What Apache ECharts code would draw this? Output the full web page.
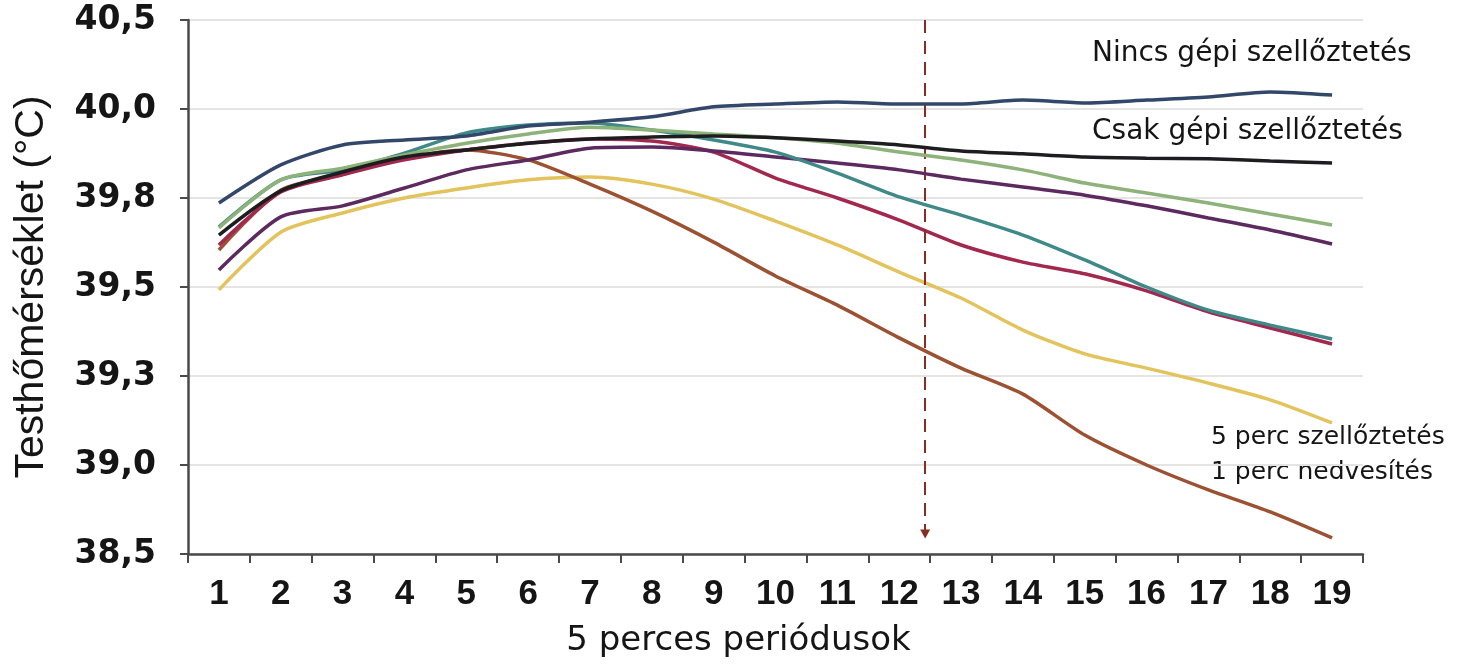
<!DOCTYPE html>
<html>
<head>
<meta charset="utf-8">
<script src="https://cdn.jsdelivr.net/npm/echarts@6/dist/echarts.min.js"></script>
<style>
html,body{margin:0;padding:0;background:#fff;}
#chart{width:1460px;height:669px;}
</style>
</head>
<body>
<div id="chart"></div>
<script>
// ---- data ----
const categories = ['1','2','3','4','5','6','7','8','9','10','11','12','13','14','15','16','17','18','19'];
const yTickLabels = ['38,5','39,0','39,3','39,5','39,8','40,0','40,5'];

const nincsGepi   = [39.736,39.843,39.899,39.913,39.924,39.952,39.963,39.978,40.006,40.014,40.020,40.014,40.014,40.025,40.017,40.025,40.034,40.048,40.039];
const csakGepi    = [39.646,39.770,39.823,39.865,39.885,39.904,39.916,39.921,39.924,39.919,39.910,39.899,39.882,39.874,39.865,39.862,39.860,39.854,39.848];
const zoldVonal   = [39.666,39.801,39.834,39.871,39.904,39.930,39.949,39.941,39.930,39.919,39.904,39.879,39.857,39.829,39.792,39.764,39.736,39.705,39.674];
const kekeszold   = [39.669,39.801,39.829,39.876,39.933,39.955,39.961,39.941,39.913,39.879,39.820,39.753,39.702,39.646,39.576,39.500,39.435,39.393,39.354];
const lilaVonal   = [39.548,39.697,39.728,39.778,39.829,39.857,39.890,39.893,39.882,39.865,39.848,39.829,39.803,39.781,39.758,39.728,39.694,39.660,39.621];
const bordoVonal  = [39.618,39.767,39.815,39.857,39.885,39.904,39.916,39.910,39.879,39.806,39.750,39.688,39.618,39.570,39.537,39.489,39.430,39.385,39.340];
const sargaVonal  = [39.492,39.654,39.708,39.750,39.778,39.801,39.809,39.789,39.747,39.685,39.618,39.542,39.469,39.379,39.312,39.272,39.230,39.183,39.118];
const barnaVonal  = [39.604,39.772,39.817,39.862,39.885,39.857,39.789,39.713,39.626,39.531,39.449,39.357,39.272,39.199,39.084,39.000,38.930,38.868,38.795];

const markerPeriod = 12.42;          // position of the dashed arrow on the period scale
const markerTop = 40.25, markerBottom = 38.806;

const yMin = 38.75, yMax = 40.25, yStep = 0.25;

// ---- chart ----
const chart = echarts.init(document.getElementById('chart'), null, {renderer:'canvas'});

function lineSeries(name, data, color, z){
  return {
    name, type:'line', data, smooth:0.25, showSymbol:false, symbol:'none',
    lineStyle:{color, width:3.5}, itemStyle:{color}, z, silent:true
  };
}

const axisColor = '#4a4a4a';
const option = {
  animation:false,
  backgroundColor:'#ffffff',
  grid:{left:188, right:97, top:20, bottom:115, containLabel:false},
  xAxis:[{
    type:'category', data:categories, boundaryGap:true,
    axisLine:{lineStyle:{color:axisColor, width:2.5}},
    axisTick:{show:true, length:9, lineStyle:{color:axisColor, width:2}, alignWithLabel:false},
    axisLabel:{fontFamily:'Liberation Sans', fontWeight:'bold', fontSize:35, color:'#151515', margin:23},
    name:'5 perces periódusok', nameLocation:'middle', nameGap:70,
    nameTextStyle:{fontFamily:'DejaVu Sans', fontSize:34, color:'#151515', padding:[0,74,0,0]}
  },{
    type:'value', min:0.5, max:19.5, show:false
  }],
  yAxis:{
    type:'value', min:yMin, max:yMax, interval:yStep,
    axisLine:{show:true, lineStyle:{color:axisColor, width:2.5}},
    axisTick:{show:true, length:8, lineStyle:{color:axisColor, width:2}},
    splitLine:{show:true, lineStyle:{color:'#e6e3e3', width:2}},
    axisLabel:{
      fontFamily:'DejaVu Sans', fontWeight:'bold', fontSize:33, color:'#151515', margin:32,
      formatter:function(v){ return yTickLabels[Math.round((v - yMin)/yStep)] || ''; }
    },
    name:'Testhőmérséklet (°C)', nameLocation:'middle', nameGap:136,
    nameTextStyle:{fontFamily:'Liberation Sans', fontSize:41, color:'#151515'}
  },
  series:[
    lineSeries('5 perc szellőztetés, 1 perc nedvesítés (sárga)', sargaVonal, '#e2c35c', 2),
    lineSeries('5 perc szellőztetés, 1 perc nedvesítés', barnaVonal, '#9c5232', 3),
    lineSeries('Változat (bordó)', bordoVonal, '#a2284f', 4),
    lineSeries('Változat (lila)', lilaVonal, '#5c2a5e', 5),
    lineSeries('Változat (kékeszöld)', kekeszold, '#3f8a88', 6),
    lineSeries('Változat (zöld)', zoldVonal, '#8db27a', 7),
    lineSeries('Csak gépi szellőztetés', csakGepi, '#1d1d1f', 8),
    lineSeries('Nincs gépi szellőztetés', nincsGepi, '#33476b', 9),
    {
      name:'jelölő', type:'line', xAxisIndex:1, data:[], silent:true, z:10,
      markLine:{
        silent:true, animation:false,
        symbol:['none','triangle'], symbolSize:[10,9],
        label:{show:false},
        lineStyle:{color:'#8a2c22', width:2, type:[13,8]},
        itemStyle:{color:'#b0392e'},
        emphasis:{disabled:true},
        data:[[{coord:[markerPeriod, markerTop]},{coord:[markerPeriod, markerBottom]}]]
      }
    }
  ],
  graphic:[
    {type:'text', left:1092, top:40, silent:true,
     style:{text:'Nincs gépi szellőztetés', font:'28px "DejaVu Sans"', fill:'#151515'}},
    {type:'text', left:1092, top:118, silent:true,
     style:{text:'Csak gépi szellőztetés', font:'28px "DejaVu Sans"', fill:'#151515'}},
    {type:'text', left:1211, top:425, silent:true,
     style:{text:'5 perc szellőztetés', font:'25px "DejaVu Sans"', fill:'#151515'}},
    {type:'text', left:1211, top:460, silent:true,
     style:{text:'1 perc nedvesítés', font:'25px "DejaVu Sans"', fill:'#151515'}}
  ]
};
chart.setOption(option);
</script>
</body>
</html>
